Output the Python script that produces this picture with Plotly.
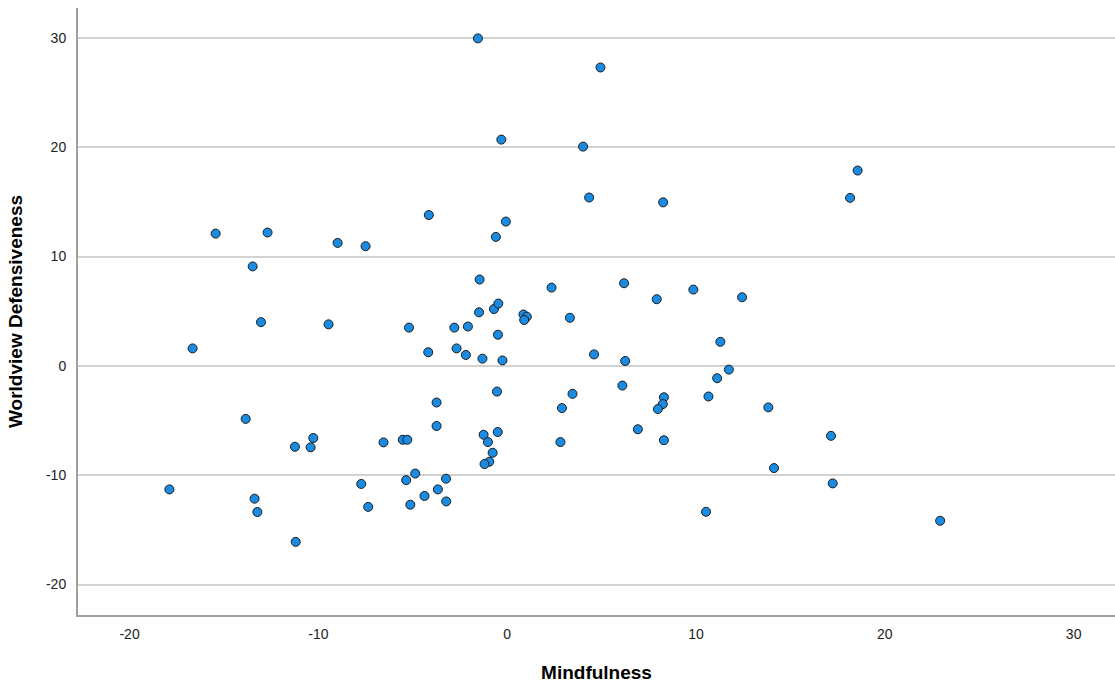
import plotly.graph_objects as go

mindfulness = [
    -1.55, 4.94, -0.31, 4.02, 4.34, 8.26, 18.16, 18.56,
    -15.44, -12.69, -8.98, -7.50, -13.48, -13.04, -9.46, -16.66,
    -13.85, -11.24, -10.41, -10.27, -6.55, -5.53, -5.29,
    -17.89, -13.38, -13.23, -11.20, -7.73, -7.36,
    -4.15, -0.07, -0.60, -1.46, 2.35, 6.19, 7.92, 9.86, 12.44,
    -1.49, -0.70, -0.47, 0.86, 1.04, 0.90, 3.32,
    -5.20, -2.80, -2.08, -0.49, -4.18, -2.68, -2.19, -1.31, -0.25,
    4.60, 6.25, 11.29, 11.74, 11.12, 10.66, 13.83, 14.13,
    -0.54, 3.46, 6.10, 2.90, 8.30, 8.24, 7.98, 6.92, 8.30, 2.82,
    -3.74, -3.74, -1.25, -0.50, -1.02, -0.77, -0.95, -1.20,
    -4.87, -5.35, -3.24, -3.67, -4.38, -5.13, -3.23,
    17.15, 17.24, 10.53, 22.93,
]
worldview_defensiveness = [
    29.96, 27.30, 20.70, 20.06, 15.40, 14.96, 15.37, 17.87,
    12.10, 12.20, 11.25, 10.95, 9.10, 4.00, 3.80, 1.60,
    -4.85, -7.40, -7.45, -6.60, -7.00, -6.76, -6.76,
    -11.30, -12.15, -13.37, -16.10, -10.80, -12.90,
    13.80, 13.20, 11.80, 7.90, 7.16, 7.56, 6.10, 6.98, 6.28,
    4.90, 5.20, 5.70, 4.70, 4.50, 4.20, 4.40,
    3.50, 3.50, 3.60, 2.85, 1.25, 1.60, 1.00, 0.66, 0.50,
    1.05, 0.45, 2.20, -0.34, -1.13, -2.80, -3.80, -9.35,
    -2.35, -2.56, -1.80, -3.86, -2.87, -3.50, -3.95, -5.80, -6.80, -6.97,
    -3.35, -5.50, -6.30, -6.05, -6.97, -7.95, -8.77, -8.98,
    -9.85, -10.45, -10.32, -11.30, -11.90, -12.70, -12.40,
    -6.40, -10.75, -13.35, -14.17,
]
x_ticks = [-20, -10, 0, 10, 20, 30]
y_ticks = [-20, -10, 0, 10, 20, 30]

fig = go.Figure(
    go.Scatter(
        x=mindfulness,
        y=worldview_defensiveness,
        mode="markers",
        marker=dict(size=9, color="#1a8be3", line=dict(color="#1c1c1c", width=1)),
        hoverinfo="x+y",
    )
)

font = "Liberation Sans, Arial, sans-serif"
fig.update_layout(
    width=1115,
    height=683,
    margin=dict(l=78, r=0, t=8, b=68),
    paper_bgcolor="white",
    plot_bgcolor="white",
    showlegend=False,
    font=dict(family=font, size=14, color="#222222"),
)
fig.update_xaxes(
    range=[-22.73, 32.19],
    tickvals=x_ticks,
    ticktext=[str(v) for v in x_ticks],
    showgrid=False,
    zeroline=False,
    showline=True,
    linecolor="#a0a0a0",
    linewidth=2,
    ticks="",
    ticklabelstandoff=5,
    tickfont=dict(size=14, color="#222222"),
    title=dict(text="<b>Mindfulness</b>", font=dict(size=19, color="black"), standoff=26),
)
fig.update_yaxes(
    range=[-22.79, 32.74],
    tickvals=y_ticks,
    ticktext=[str(v) for v in y_ticks],
    showgrid=True,
    gridcolor="#d2d2d2",
    gridwidth=1.5,
    zeroline=False,
    showline=True,
    linecolor="#a0a0a0",
    linewidth=2,
    ticks="",
    ticklabelstandoff=7,
    tickfont=dict(size=14, color="#222222"),
    title=dict(text="<b>Worldview Defensiveness</b>", font=dict(size=19, color="black"), standoff=18),
)

fig.write_html("out.html")
